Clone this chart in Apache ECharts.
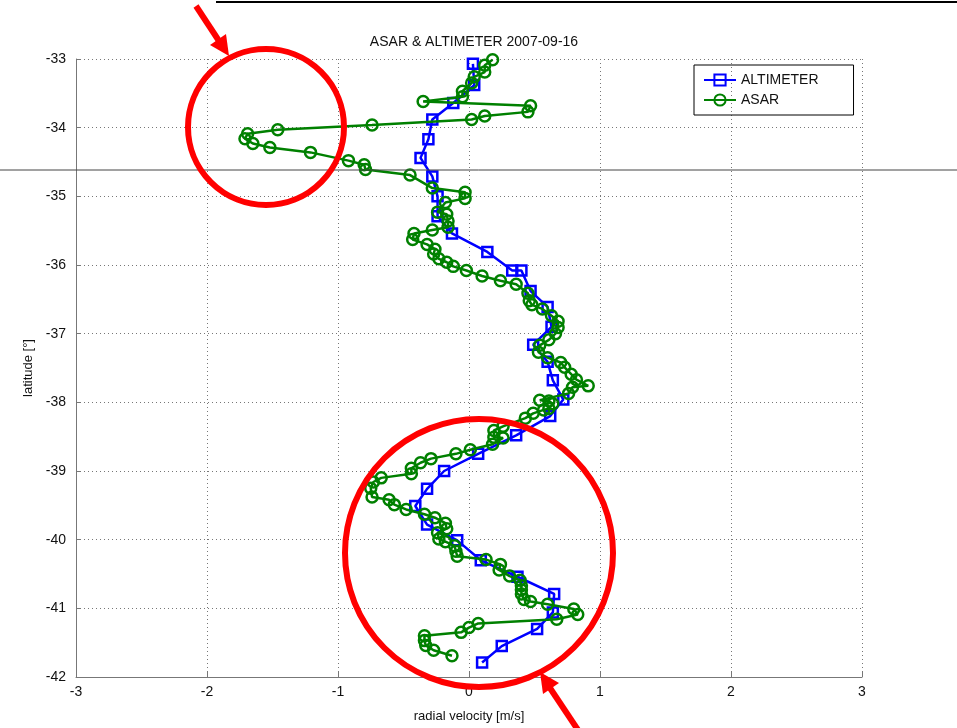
<!DOCTYPE html>
<html>
<head>
<meta charset="utf-8">
<script src="https://cdn.jsdelivr.net/npm/echarts@6/dist/echarts.min.js"></script>
<style>html,body{margin:0;padding:0;background:#fff}#c{width:957px;height:728px}</style>
</head>
<body>
<div id="c"></div>
<script>
// ALTIMETER: radial velocity [m/s] and latitude [°]
var altVel = [0.03,0.04,-0.12,-0.28,-0.31,-0.37,-0.28,-0.24,-0.24,-0.13,0.14,0.33,0.40,0.47,0.60,0.63,0.49,0.60,0.64,0.72,0.62,0.36,0.07,-0.19,-0.32,-0.41,-0.32,-0.09,0.09,0.37,0.65,0.64,0.52,0.25,0.10];
var altLat = [-33.07,-33.38,-33.64,-33.88,-34.17,-34.44,-34.71,-35.00,-35.29,-35.54,-35.81,-36.08,-36.08,-36.38,-36.61,-36.90,-37.16,-37.41,-37.68,-37.96,-38.20,-38.48,-38.75,-39.00,-39.26,-39.51,-39.78,-40.01,-40.30,-40.54,-40.79,-41.06,-41.30,-41.55,-41.79];
// ASAR: radial velocity [m/s] and latitude [°]
var asarVel = [0.18,0.12,0.12,0.04,0.02,-0.05,-0.05,-0.35,0.47,0.45,0.12,0.02,-0.74,-1.46,-1.69,-1.71,-1.65,-1.52,-1.21,-0.92,-0.80,-0.79,-0.45,-0.28,-0.03,-0.03,-0.18,-0.24,-0.17,-0.16,-0.16,-0.28,-0.42,-0.43,-0.32,-0.26,-0.27,-0.23,-0.17,-0.12,-0.02,0.10,0.24,0.36,0.45,0.46,0.48,0.56,0.63,0.68,0.68,0.66,0.61,0.54,0.53,0.60,0.70,0.73,0.78,0.82,0.91,0.79,0.76,0.54,0.61,0.64,0.61,0.57,0.49,0.43,0.26,0.19,0.19,0.26,0.18,0.01,-0.10,-0.29,-0.37,-0.44,-0.44,-0.67,-0.73,-0.75,-0.74,-0.61,-0.57,-0.48,-0.34,-0.26,-0.18,-0.17,-0.24,-0.23,-0.18,-0.11,-0.10,-0.09,0.13,0.24,0.23,0.31,0.39,0.40,0.40,0.40,0.42,0.47,0.60,0.80,0.83,0.67,0.07,0.00,-0.06,-0.34,-0.34,-0.33,-0.27,-0.13];
var asarLat = [-33.01,-33.09,-33.19,-33.26,-33.35,-33.47,-33.55,-33.62,-33.68,-33.77,-33.83,-33.88,-33.96,-34.03,-34.09,-34.16,-34.23,-34.29,-34.36,-34.48,-34.54,-34.61,-34.69,-34.88,-34.94,-35.03,-35.09,-35.23,-35.26,-35.36,-35.45,-35.49,-35.54,-35.63,-35.70,-35.77,-35.84,-35.91,-35.96,-36.02,-36.08,-36.16,-36.23,-36.28,-36.41,-36.52,-36.58,-36.64,-36.74,-36.82,-36.91,-37.00,-37.09,-37.17,-37.27,-37.35,-37.42,-37.49,-37.59,-37.67,-37.76,-37.78,-37.87,-37.97,-37.98,-38.02,-38.09,-38.11,-38.16,-38.23,-38.35,-38.41,-38.51,-38.52,-38.61,-38.69,-38.75,-38.82,-38.88,-38.96,-39.04,-39.10,-39.16,-39.25,-39.38,-39.42,-39.49,-39.56,-39.63,-39.68,-39.76,-39.84,-39.90,-39.99,-40.03,-40.09,-40.17,-40.24,-40.29,-40.36,-40.44,-40.53,-40.59,-40.67,-40.73,-40.79,-40.87,-40.90,-40.94,-41.01,-41.09,-41.16,-41.22,-41.28,-41.35,-41.40,-41.47,-41.54,-41.61,-41.69];
var seriesNames = ['ALTIMETER','ASAR'];
var titleText = 'ASAR & ALTIMETER 2007-09-16';
var xName = 'radial velocity [m/s]';
var yName = 'latitude [°]';

function pairs(xs, ys){ return xs.map(function(v,i){ return [v, ys[i]]; }); }

var chart = echarts.init(document.getElementById('c'), null, {renderer:'canvas'});
var FONT = 'Liberation Sans';
var red = '#ff0000';
chart.setOption({
  animation:false,
  backgroundColor:'#fff',
  textStyle:{fontFamily:FONT},
  title:{text:titleText, left:469, top:30, textAlign:'center',
    textStyle:{fontSize:14, fontWeight:'normal', color:'#111', fontFamily:FONT}},
  grid:{left:76, right:95, top:59, bottom:48, containLabel:false},
  legend:{orient:'vertical', left:694, top:65, data:seriesNames,
    borderColor:'#000', borderWidth:1, padding:[8,35,8,9],
    itemWidth:32, itemHeight:14, itemGap:6,
    textStyle:{fontSize:14, color:'#111', fontFamily:FONT}},
  xAxis:{type:'value', min:-3, max:3, interval:1,
    name:xName, nameLocation:'middle', nameGap:33,
    nameTextStyle:{fontSize:13, color:'#111', fontFamily:FONT},
    axisLine:{show:true, onZero:false, lineStyle:{color:'#777', width:1}},
    axisTick:{show:true, inside:true, length:5, lineStyle:{color:'#777'}},
    axisLabel:{fontSize:14, color:'#111', margin:8, fontFamily:FONT},
    splitLine:{show:true, lineStyle:{type:[1,3], color:'#777', width:1}}},
  yAxis:{type:'value', min:-42, max:-33, interval:1,
    name:yName, nameLocation:'middle', nameGap:40, nameRotate:90,
    nameTextStyle:{fontSize:13, color:'#111', fontFamily:FONT},
    axisLine:{show:true, onZero:false, lineStyle:{color:'#777', width:1}},
    axisTick:{show:true, inside:true, length:5, lineStyle:{color:'#777'}},
    axisLabel:{fontSize:14, color:'#111', margin:10, fontFamily:FONT},
    splitLine:{show:true, lineStyle:{type:[1,3], color:'#777', width:1}}},
  series:[
    {name:seriesNames[0], type:'line', data:pairs(altVel, altLat),
     symbol:'rect', symbolSize:10, z:3,
     lineStyle:{color:'#0000ff', width:2.5},
     itemStyle:{color:'rgba(255,255,255,0)', borderColor:'#0000ff', borderWidth:2.5}},
    {name:seriesNames[1], type:'line', data:pairs(asarVel, asarLat),
     symbol:'circle', symbolSize:11, z:4,
     lineStyle:{color:'#008000', width:2.5},
     itemStyle:{color:'rgba(255,255,255,0)', borderColor:'#008000', borderWidth:2.5}}
  ],
  graphic:[
    {type:'line', z:100, shape:{x1:0,y1:170,x2:957,y2:170}, style:{stroke:'#444', lineWidth:1}},
    {type:'line', z:100, shape:{x1:216,y1:2,x2:957,y2:2}, style:{stroke:'#000', lineWidth:2}},
    {type:'circle', z:100, shape:{cx:266,cy:127,r:78}, style:{fill:'none', stroke:red, lineWidth:6}},
    {type:'circle', z:100, shape:{cx:479,cy:553,r:134}, style:{fill:'none', stroke:red, lineWidth:6}},
    {type:'line', z:100, shape:{x1:196,y1:6,x2:221,y2:44}, style:{stroke:red, lineWidth:6}},
    {type:'polygon', z:100, shape:{points:[[229,56],[210,45],[226,34]]}, style:{fill:red}},
    {type:'line', z:100, shape:{x1:578,y1:730,x2:550,y2:688}, style:{stroke:red, lineWidth:6}},
    {type:'polygon', z:100, shape:{points:[[540,672],[559,683],[543,694]]}, style:{fill:red}}
  ]
});
</script>
</body>
</html>
